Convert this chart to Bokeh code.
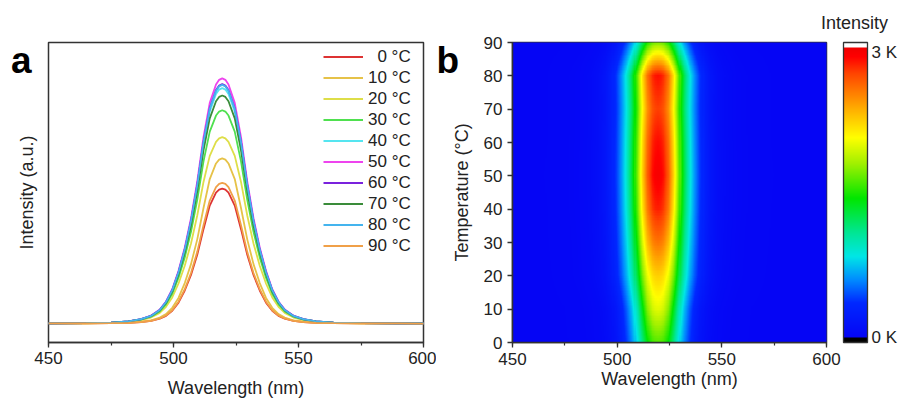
import numpy as np
from bokeh.plotting import figure
from bokeh.layouts import row
from bokeh.models import (Range1d, Legend, LegendItem, ColorBar,
                          LinearColorMapper, FixedTicker, SingleIntervalTicker)
from bokeh.embed import file_html
from bokeh.resources import INLINE

# ---------------- data ----------------
wavelength = [450, 465, 475, 482, 487, 491, 494.5, 497, 499.5, 502, 504.5, 507,
              509.5, 512, 514.5, 517, 518.25, 519.5, 520.75, 522, 524.5, 527,
              529.5, 532, 534.5, 537, 539.5, 542, 544.5, 548, 552, 557, 564,
              575, 590, 600]

temperatures = [0, 10, 20, 30, 40, 50, 60, 70, 80, 90]
legend_labels = ["\u00a0\u00a00 °C", "10 °C", "20 °C", "30 °C", "40 °C",
                 "50 °C", "60 °C", "70 °C", "80 °C", "90 °C"]

i_0C = [0, 2, 4, 9, 18, 33, 59, 94, 157, 256, 404, 594, 842, 1155, 1444, 1601, 1638, 1650,
        1638, 1601, 1444, 1155, 842, 594, 404, 256, 157, 94, 59, 33, 18, 9, 4, 2, 0, 0]
i_10C = [1, 2, 5, 11, 22, 40, 73, 115, 192, 313, 495, 727, 1030, 1414, 1768, 1959, 2006, 2020,
         2006, 1959, 1768, 1414, 1030, 727, 495, 313, 192, 115, 73, 40, 22, 11, 5, 2, 1, 0]
i_20C = [1, 3, 9, 21, 41, 73, 130, 205, 319, 490, 707, 980, 1322, 1733, 2052, 2223, 2266, 2280,
         2266, 2223, 2052, 1733, 1322, 980, 707, 490, 319, 205, 130, 73, 41, 21, 9, 3, 1, 1]
i_30C = [1, 4, 10, 23, 47, 84, 149, 235, 365, 561, 809, 1122, 1514, 1984, 2349, 2545, 2594, 2610,
         2594, 2545, 2349, 1984, 1514, 1122, 809, 561, 365, 235, 149, 84, 47, 23, 10, 4, 1, 1]
i_40C = [1, 4, 12, 26, 52, 92, 164, 259, 403, 619, 893, 1238, 1670, 2189, 2592, 2808, 2863, 2880,
         2863, 2808, 2592, 2189, 1670, 1238, 893, 619, 403, 259, 164, 92, 52, 26, 12, 4, 1, 1]
i_50C = [2, 5, 12, 27, 54, 96, 171, 270, 420, 645, 930, 1290, 1740, 2280, 2700, 2925, 2982, 3000,
         2982, 2925, 2700, 2280, 1740, 1290, 930, 645, 420, 270, 171, 96, 54, 27, 12, 5, 2, 1]
i_60C = [1, 4, 12, 26, 53, 94, 167, 264, 410, 630, 908, 1260, 1699, 2227, 2637, 2857, 2912, 2930,
         2912, 2857, 2637, 2227, 1699, 1260, 908, 630, 410, 264, 167, 94, 53, 26, 12, 4, 1, 1]
i_70C = [1, 4, 11, 25, 50, 89, 159, 251, 391, 600, 865, 1200, 1618, 2120, 2511, 2720, 2773, 2790,
         2773, 2720, 2511, 2120, 1618, 1200, 865, 600, 391, 251, 159, 89, 50, 25, 11, 4, 1, 1]
i_80C = [1, 4, 12, 26, 53, 93, 166, 263, 409, 628, 905, 1256, 1694, 2219, 2628, 2847, 2902, 2920,
         2902, 2847, 2628, 2219, 1694, 1256, 905, 628, 409, 263, 166, 93, 53, 26, 12, 4, 1, 1]
i_90C = [1, 2, 4, 9, 19, 34, 62, 98, 163, 267, 421, 619, 877, 1204, 1505, 1668, 1708, 1720,
         1708, 1668, 1505, 1204, 877, 619, 421, 267, 163, 98, 62, 34, 19, 9, 4, 2, 1, 0]

spectra = [i_0C, i_10C, i_20C, i_30C, i_40C, i_50C, i_60C, i_70C, i_80C, i_90C]

colorbar_ticks = [0, 3000]
colorbar_labels = ["0 K", "3 K"]

# ---------------- styles ----------------
FONT = "Liberation Sans"
TXT = "#222222"
FRAME = "#333333"
line_colors = ["#dd3333", "#e6c248", "#dede48", "#4fe04f", "#55e5f0",
               "#ee44ee", "#7a22dd", "#3a8c3a", "#44b4ee", "#f0a048"]


def style_axes(p):
    p.xgrid.grid_line_color = None
    p.ygrid.grid_line_color = None
    p.outline_line_color = FRAME
    p.outline_line_width = 1.5
    p.outline_line_alpha = 1.0
    for ax in p.axis:
        ax.axis_line_color = FRAME
        ax.axis_line_width = 1.5
        ax.major_tick_line_color = FRAME
        ax.major_tick_line_width = 1.3
        ax.minor_tick_line_color = FRAME
        ax.minor_tick_line_width = 1.2
        ax.major_tick_in = 0
        ax.major_tick_out = 5
        ax.minor_tick_in = 0
        ax.minor_tick_out = 3
        ax.major_label_text_font = FONT
        ax.major_label_text_font_size = "17px"
        ax.major_label_text_color = TXT
        ax.axis_label_text_font = FONT
        ax.axis_label_text_font_size = "18px"
        ax.axis_label_text_font_style = "normal"
        ax.axis_label_text_color = TXT


def text_tag(p, text, x, y, size, bold=False, color=TXT):
    """Free text outside the frame, drawn as the title of an invisible colour bar."""
    m = LinearColorMapper(palette=["#ffffff"], low=0, high=1)
    tag = ColorBar(color_mapper=m, orientation="horizontal", width=1, height=1,
                   location=(x, y), padding=0, margin=0, title=text, title_standoff=0,
                   title_text_font=FONT, title_text_font_size=size,
                   title_text_font_style="bold" if bold else "normal",
                   title_text_color=color, scale_alpha=0,
                   ticker=FixedTicker(ticks=[]), major_tick_line_color=None,
                   minor_tick_line_color=None, major_label_text_alpha=0,
                   bar_line_color=None, border_line_color=None,
                   background_fill_alpha=0)
    p.add_layout(tag)


# ---------------- panel a ----------------
p1 = figure(width=436, height=405, x_range=Range1d(450, 600),
            y_range=Range1d(-232, 3439), output_backend="svg",
            toolbar_location=None, min_border_left=48, min_border_right=13,
            min_border_top=41, min_border_bottom=63)
style_axes(p1)
p1.xaxis.ticker = SingleIntervalTicker(interval=50, num_minor_ticks=2)
p1.xaxis.axis_label = "Wavelength (nm)"
p1.xaxis.major_label_standoff = 4
p1.xaxis.axis_label_standoff = 11
p1.yaxis.axis_label = "Intensity (a.u.)"
p1.yaxis.ticker = FixedTicker(ticks=[])
p1.yaxis.major_tick_line_color = None
p1.yaxis.minor_tick_line_color = None
p1.yaxis.axis_line_color = None
p1.yaxis.axis_label_standoff = 12

items = []
for lab, col, spec in zip(legend_labels, line_colors, spectra):
    r = p1.line(wavelength, spec, line_color=col, line_width=1.8)
    items.append(LegendItem(label=lab, renderers=[r]))

legend = Legend(items=items, location=(275, 86), padding=0, spacing=0, margin=0,
                glyph_width=40, glyph_height=21, label_height=21, label_standoff=5,
                label_text_font=FONT, label_text_font_size="17px",
                label_text_color=TXT, background_fill_alpha=0, border_line_alpha=0)
p1.add_layout(legend)

text_tag(p1, "a", -37.5, 261, "37px", bold=True, color="#000000")

# ---------------- panel b ----------------
anchors = [(0.00, (5, 5, 245)), (0.12, (0, 40, 255)), (0.20, (0, 140, 255)),
           (0.28, (0, 230, 230)), (0.36, (0, 230, 150)), (0.48, (0, 230, 0)),
           (0.60, (160, 240, 0)), (0.69, (255, 255, 0)), (0.80, (255, 165, 0)),
           (0.91, (255, 70, 0)), (0.97, (255, 0, 0)), (1.00, (240, 0, 0))]
n_rain = 580
fx = np.linspace(0, 1, n_rain)
af = [a[0] for a in anchors]
rain = []
for f in fx:
    rgb = [int(round(np.interp(f, af, [a[1][k] for a in anchors]))) for k in range(3)]
    rain.append("#%02x%02x%02x" % tuple(rgb))
palette = ["#000000"] * 10 + rain + ["#ffffff"] * 10
mapper = LinearColorMapper(palette=palette, low=-52.6, high=3102.6)

wl_grid = np.arange(450, 600.001, 0.5)
t_grid = np.arange(0, 90.001, 0.5)
rows_T = np.array([np.interp(wl_grid, wavelength, s) for s in spectra])
img = np.empty((len(t_grid), len(wl_grid)))
for j in range(len(wl_grid)):
    img[:, j] = np.interp(t_grid, temperatures, rows_T[:, j])

p2 = figure(width=473, height=405, x_range=Range1d(450, 600),
            y_range=Range1d(0, 90), output_backend="svg",
            toolbar_location=None, min_border_left=76, min_border_right=83,
            min_border_top=42, min_border_bottom=63)
p2.image(image=[img], x=449.75, dw=150.5, y=-0.25, dh=90.5, color_mapper=mapper)
style_axes(p2)
p2.xaxis.ticker = SingleIntervalTicker(interval=50, num_minor_ticks=2)
p2.yaxis.ticker = SingleIntervalTicker(interval=10, num_minor_ticks=0)
p2.xaxis.axis_label = "Wavelength (nm)"
p2.yaxis.axis_label = "Temperature (°C)"
p2.xaxis.major_label_standoff = 5
p2.xaxis.axis_label_standoff = 1
p2.yaxis.major_label_standoff = 5
p2.yaxis.axis_label_standoff = 9

cb = ColorBar(color_mapper=mapper, width=24, height=300, location=(331, 0),
              padding=0, margin=0,
              ticker=FixedTicker(ticks=colorbar_ticks),
              major_label_overrides={t: l for t, l in zip(colorbar_ticks, colorbar_labels)},
              major_tick_line_color=None, minor_tick_line_color=None,
              label_standoff=4, major_label_text_font=FONT,
              major_label_text_font_size="17px", major_label_text_color=TXT,
              bar_line_color=FRAME, bar_line_width=1.3,
              background_fill_alpha=0, border_line_color=None)
p2.add_layout(cb)

text_tag(p2, "Intensity", 308.5, 309, "18px")
text_tag(p2, "b", -76, 261, "37px", bold=True, color="#000000")

layout = row(p1, p2, spacing=0)
open("out.html", "w").write(file_html(layout, INLINE))
